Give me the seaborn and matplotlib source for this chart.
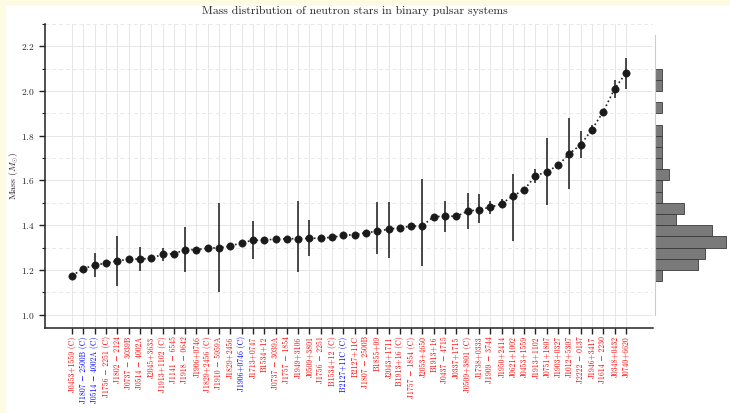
import numpy as np
import pandas as pd
import matplotlib
matplotlib.use("Agg")
import matplotlib.pyplot as plt
from matplotlib.patches import Rectangle
from matplotlib.ticker import MultipleLocator
import seaborn as sns

pulsars = [
    "J0453+1559 (C)", "J1807−2500B (C)", "J0514−4002A (C)", "J1756−2251 (C)", "J1802−2124",
    "J0737−3039B", "J0514−4002A", "J2045+3633", "J1913+1102 (C)", "J1141−6545",
    "J1918−0642", "J1906+0746", "J1829+2456 (C)", "J1910−5959A", "J1829+2456",
    "J1906+0746 (C)", "J1713+0747", "B1534+12", "J0737−3039A", "J1757−1854",
    "J1949+3106", "J0509+3801", "J1756−2251", "B1534+12 (C)", "B2127+11C (C)",
    "B2127+11C", "J1807−2500B", "B1855+09", "J2043+1711", "B1913+16 (C)",
    "J1757−1854 (C)", "J2053+4650", "B1913+16", "J0437−4715", "J0337+1715",
    "J0509+3801 (C)", "J1738+0333", "J1909−3744", "J1950+2414", "J0621+1002",
    "J0453+1559", "J1913+1102", "J0751+1807", "J1903+0327", "J1012+5307",
    "J2222−0137", "J1946+3417", "J1614−2230", "J0348+0432", "J0740+6620",
]
mass = [
    1.174, 1.206, 1.221, 1.230, 1.240,
    1.248, 1.249, 1.251, 1.270, 1.272,
    1.290, 1.291, 1.297, 1.299, 1.306,
    1.322, 1.332, 1.333, 1.338, 1.339,
    1.340, 1.341, 1.342, 1.346, 1.354,
    1.358, 1.366, 1.373, 1.382, 1.389,
    1.395, 1.398, 1.438, 1.440, 1.440,
    1.462, 1.470, 1.480, 1.496, 1.530,
    1.559, 1.620, 1.640, 1.667, 1.720,
    1.760, 1.828, 1.908, 2.010, 2.080,
]
err_lo = [
    0.0, 0.0, 0.055, 0.0, 0.11,
    0.0, 0.055, 0.01, 0.03, 0.0,
    0.10, 0.0, 0.0, 0.20, 0.0,
    0.0, 0.085, 0.0, 0.0, 0.0,
    0.15, 0.08, 0.0, 0.0, 0.0,
    0.0, 0.0, 0.10, 0.13, 0.0,
    0.0, 0.18, 0.0, 0.07, 0.0,
    0.08, 0.06, 0.03, 0.02, 0.20,
    0.0, 0.03, 0.15, 0.0, 0.16,
    0.06, 0.02, 0.0, 0.04, 0.07,
]
err_hi = [
    0.0, 0.0, 0.055, 0.0, 0.11,
    0.0, 0.055, 0.01, 0.03, 0.0,
    0.10, 0.0, 0.0, 0.20, 0.0,
    0.0, 0.085, 0.0, 0.0, 0.0,
    0.17, 0.08, 0.0, 0.0, 0.0,
    0.0, 0.0, 0.13, 0.12, 0.0,
    0.0, 0.21, 0.0, 0.07, 0.0,
    0.08, 0.07, 0.03, 0.02, 0.10,
    0.0, 0.03, 0.15, 0.0, 0.16,
    0.06, 0.02, 0.0, 0.04, 0.07,
]
blue_labels = ["J1807−2500B (C)", "J0514−4002A (C)", "J1906+0746 (C)", "B2127+11C (C)"]

df = pd.DataFrame({"pulsar": pulsars, "mass": mass, "lo": err_lo, "hi": err_hi})
df["pos"] = np.arange(len(df))

sns.set_style("ticks")
plt.rcParams["font.family"] = ["cmr10", "DejaVu Serif"]
plt.rcParams["mathtext.fontset"] = "cm"
plt.rcParams["axes.unicode_minus"] = False
plt.rcParams["axes.formatter.use_mathtext"] = True

fig = plt.figure(figsize=(7.30, 4.13), dpi=100)
fig.patch.set_facecolor("#fefbe3")
fig.patches.append(Rectangle((6 / 730, 0), 1, 1 - 6 / 413, transform=fig.transFigure,
                             facecolor="white", edgecolor="none", zorder=-10))

ax = fig.add_axes([45 / 730, 1 - 328 / 413, 608 / 730, 304 / 413])
hax = fig.add_axes([655 / 730, 1 - 328 / 413, 75 / 730, 304 / 413], sharey=ax)
for a in (ax, hax):
    a.set_facecolor("none")

ax.errorbar(df["pos"], df["mass"], yerr=[df["lo"], df["hi"]], fmt="none",
            ecolor="#1a1a1a", elinewidth=1.1, capsize=0, zorder=2)
sns.lineplot(data=df, x="pos", y="mass", ax=ax, color="#222222", linestyle=":",
             linewidth=1.2, zorder=3)
sns.scatterplot(data=df, x="pos", y="mass", ax=ax, color="#1a1a1a", s=28,
                edgecolor="#1a1a1a", linewidth=0.4, zorder=4)

ax.set_xlim(-2.4, len(df) - 1 + 2.4)
ax.set_ylim(0.94, 2.30)
ax.yaxis.set_major_locator(MultipleLocator(0.2))
ax.yaxis.set_minor_locator(MultipleLocator(0.1))
ax.set_xticks(df["pos"])
ax.set_xticklabels([p.replace("−", " − ") for p in df["pulsar"]],
                   rotation=90, fontsize=5.6)
for lab, name in zip(ax.get_xticklabels(), df["pulsar"]):
    lab.set_color("blue" if name in blue_labels else "red")
ax.tick_params(axis="y", which="major", labelsize=6.8, length=4, width=1.0, color="#222")
ax.tick_params(axis="y", which="minor", length=2.5, width=0.8, color="#222")
ax.tick_params(axis="x", length=4, width=1.0, color="#222", pad=2)
ax.grid(True, which="major", axis="both", color="#e6e6e6", linewidth=0.7, linestyle="-")
ax.grid(True, which="minor", axis="y", color="#e9e9e9", linewidth=0.7, linestyle=(0, (4, 3)))
ax.set_axisbelow(True)
ax.set_xlabel("")
ax.set_ylabel(r"Mass ($M_{\odot}$)", fontsize=7, labelpad=0)
ax.set_title("Mass distribution of neutron stars in binary pulsar systems", fontsize=8.5, pad=7,
             x=0.51)
for s in ("top", "right"):
    ax.spines[s].set_visible(False)
for s in ("left", "bottom"):
    ax.spines[s].set_color("#222")
    ax.spines[s].set_linewidth(1.1)

bins = np.round(np.arange(1.15, 2.1001, 0.05), 2)
sns.histplot(data=df, y="mass", bins=bins, ax=hax, color="#7a7a7a", edgecolor="#3a3a3a",
             linewidth=0.6, alpha=1.0)
hax.set_xlim(0, 10.5)
hax.set_xlabel("")
hax.set_ylabel("")
hax.tick_params(left=False, bottom=False, labelleft=False, labelbottom=False, which="both")
for s in ("top", "right", "bottom"):
    hax.spines[s].set_visible(False)
hax.spines["left"].set_color("#cccccc")
hax.spines["left"].set_linewidth(0.8)
hax.spines["left"].set_bounds(1.0, 2.25)

fig.savefig("out.png", dpi=100, facecolor=fig.get_facecolor())
